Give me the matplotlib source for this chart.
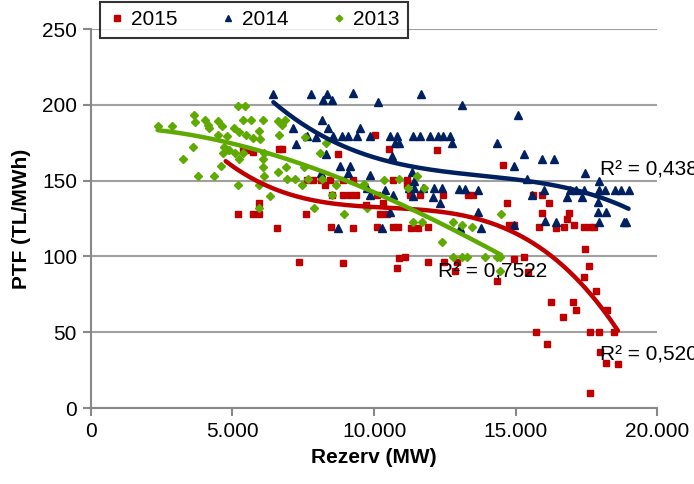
import numpy as np
import matplotlib
matplotlib.use('Agg')
import matplotlib.pyplot as plt

plt.rcParams['font.family'] = ['Liberation Sans', 'DejaVu Sans']

# 2015 - Rezerv (MW), PTF (TL/MWh)
x_2015 = [4760, 5360, 5513, 5713, 5925, 5183, 5736, 5925, 6562, 6656, 6738, 8741, 10037, 10544, 12215,
          7622, 7858, 8128, 8446, 8917, 9271, 8270, 10662, 11157, 11157, 8506, 8917, 9153, 9365, 10096,
          11274, 11627, 12428, 13334, 7598, 10214, 10472, 9719, 10332, 8482, 9248, 10096, 10685, 10861,
          11298, 11568, 11921, 14571, 13511, 15610, 15927, 14690, 16161, 15927, 16868, 16811, 14748,
          14949, 15833, 16433, 16692, 17070, 17400, 17612, 17753, 17435, 7363, 8917, 10896, 11097, 10826,
          11898, 12487, 12923, 12864, 14949, 15302, 14336, 15454, 17600, 17423, 17847, 16256, 17010,
          17140, 16657, 18224, 15727, 17635, 17953, 18483, 16104, 17964, 18188, 18612, 17611]
y_2015 = [170, 170.6, 170, 168.6, 135, 127.8, 127.8, 127.8, 119, 170.6, 170.6, 167.3, 180, 170.6, 170,
          150.4, 150.4, 150.4, 150.4, 150.4, 150.4, 147, 150.4, 150.4, 147, 140.5, 140.5, 140.5, 140.5, 140.5,
          140.5, 140.5, 140.5, 140.5, 127.8, 127.8, 127.8, 134, 135, 119.6, 119, 119.6, 119.6, 119.6,
          119, 119, 119.6, 160, 140.5, 140.5, 140.5, 135, 135, 128.4, 128.4, 124.7, 120.5,
          120.5, 119.6, 119, 119.6, 120.5, 119.6, 119.6, 119.6, 104.9, 96.5, 95.4, 98.7, 99.8, 92.1,
          96, 96.5, 96, 90.4, 98.3, 99.8, 84, 90, 93.9, 86.6, 77.2, 69.7, 69.7,
          64.6, 59.8, 64.6, 49.9, 49.9, 49.9, 49.9, 42.2, 36.7, 29.5, 28.8, 9.7]

# 2014
x_2014 = [6444, 7763, 8352, 8188, 8506, 9271, 10132, 11662, 13122, 8152, 7127, 8364, 9507, 7245, 7622,
          7952, 8564, 8858, 9094, 9412, 9860, 10567, 10803, 11392, 11627, 11981, 12275, 12451, 12687,
          10744, 10896, 12746, 8305, 8800, 9153, 8117, 9094, 9860, 11333, 11427, 10626, 9742, 10402,
          11250, 11427, 11745, 12121, 12393, 12982, 13217, 9860, 10685, 11392, 12097, 12333, 10567,
          8741, 10296, 13040, 15066, 14359, 15302, 15927, 16362, 14949, 17459, 17929, 13688, 15398,
          15575, 15986, 16811, 16928, 17140, 17400, 17341, 17929, 18165, 18518, 18719, 18989, 17906,
          17906, 18200, 13688, 14925, 13772, 16044, 16433, 17929, 18813, 18895]
y_2014 = [207, 207, 207, 203, 203, 207.6, 201.6, 207, 200, 190, 184.4, 184.4, 185, 174, 179.6,
          179, 179.6, 179.6, 179.6, 179.6, 179.6, 179.6, 179.6, 179.6, 179.6, 179.6, 179.6, 179.6, 179.6,
          174.6, 174.6, 174.6, 167.5, 159.6, 159.6, 154.8, 154.8, 153.7, 156, 149.7, 166, 145, 144,
          145, 145, 145, 145, 145, 144.5, 144.5, 140.5, 140.5, 140, 139.5, 135, 129.5,
          118.5, 118.5, 118.5, 193, 175, 167.5, 164, 164, 159.6, 154.8, 150, 143.8, 150.8,
          140.5, 143.8, 139.5, 143.8, 143.8, 143.8, 139.5, 143.8, 143.8, 143.8, 143.8, 143.8, 135.7,
          129.5, 129.5, 129, 121, 118.5, 123.3, 123, 123, 123, 123]

# 2013
x_2013 = [2357, 2863, 3652, 3687, 4030, 4124, 4170, 4477, 4618, 5183, 5442, 5372, 5654, 6068, 5065,
          5230, 5478, 5713, 5925, 5983, 4806, 4477, 3616, 3263, 4712, 4653, 4889, 5089, 5242, 5383,
          6068, 6125, 4594, 6090, 3793, 4335, 5183, 6125, 5925, 6326, 5948, 6597, 6597, 6633, 6856,
          6738, 7563, 8305, 8093, 6891, 7527, 6916, 7210, 7680, 8152, 7446, 8658, 9659, 10355, 10896,
          11510, 11214, 11768, 8506, 7892, 8952, 9765, 11392, 11686, 12805, 13098, 12416, 14490, 13452,
          12805, 13098, 13275, 13923, 14359, 14455, 14430]
y_2013 = [186, 186, 193, 189, 190, 187, 185, 189.5, 186, 199, 199, 190, 190, 190, 184.5,
          182, 180, 178, 183, 177.5, 179.6, 180, 172, 164.5, 172, 168, 170, 168, 164.5, 168,
          164.5, 168, 159.6, 159, 153, 153, 147, 153, 147, 140, 131.7, 155.5, 189.5, 180, 190,
          187, 178.5, 174.6, 168, 159, 159, 151.4, 151.4, 151.4, 151.4, 147, 147, 148, 150.4, 151.4,
          153, 145, 145, 140.5, 131.7, 128, 131.7, 123, 123, 123, 120.7, 109.7, 128, 119.6,
          99.4, 99.4, 99.4, 99.4, 99.4, 99.4, 90.6]

# grafikte sag kenarda kesik gorunuyorlar
r2_labels = ['R² = 0,520', 'R² = 0,438', 'R² = 0,7522']

c15, c14, c13 = '#C00000', '#002060', '#5FAA00'

fig = plt.figure(figsize=(6.94, 4.84), dpi=100)
ax = fig.add_axes([0.131, 0.157, 0.816, 0.783])

ax.plot(x_2015, y_2015, 's', color=c15, ms=4.8, mec=c15, label='2015', zorder=3)
ax.plot(x_2014, y_2014, '^', color=c14, ms=5.8, mec=c14, label='2014', zorder=3)
ax.plot(x_2013, y_2013, 'D', color=c13, ms=4.0, mec=c13, label='2013', zorder=3)

# polinom trend cizgileri (3. derece)
for xs, ys, c in [(x_2015, y_2015, c15), (x_2014, y_2014, c14), (x_2013, y_2013, c13)]:
    xs = np.array(xs, float)
    coef = np.polyfit(xs, ys, 3)
    xl = np.linspace(xs.min(), xs.max(), 200)
    ax.plot(xl, np.polyval(coef, xl), '-', color=c, lw=3.2, solid_capstyle='round', zorder=4)

ax.text(17988, 35, r2_labels[0], fontsize=15, va='center', ha='left', zorder=5)
ax.text(17988, 157, r2_labels[1], fontsize=15, va='center', ha='left', zorder=5)
ax.text(12263, 90, r2_labels[2], fontsize=15, va='center', ha='left', zorder=5)

ax.set_xlim(0, 20000)
ax.set_ylim(0, 250)
ax.set_xticks(range(0, 20001, 5000))
ax.set_xticklabels(['0', '5.000', '10.000', '15.000', '20.000'])
ax.set_yticks(range(0, 251, 50))
ax.tick_params(labelsize=15, color='#888888', length=6, width=1.5, pad=4)
ax.grid(axis='y', color='#A0A0A0', lw=1.5)
ax.set_axisbelow(True)
for s in ['top', 'right']:
    ax.spines[s].set_visible(False)
for s in ['left', 'bottom']:
    ax.spines[s].set_color('#888888')
    ax.spines[s].set_linewidth(1.5)

ax.set_xlabel('Rezerv (MW)', fontsize=15, fontweight='bold', labelpad=5)
ax.set_ylabel('PTF (TL/MWh)', fontsize=15, fontweight='bold', labelpad=8)

leg = fig.legend(loc='upper left', bbox_to_anchor=(0.144, 0.996), borderaxespad=0, ncol=3,
                 fontsize=15, frameon=True, fancybox=False, edgecolor='black', handlelength=0.8,
                 handletextpad=0.3, columnspacing=2.0, borderpad=0.4, markerscale=0.85)
leg.get_frame().set_linewidth(1.5)

fig.savefig('out.png', dpi=100)
